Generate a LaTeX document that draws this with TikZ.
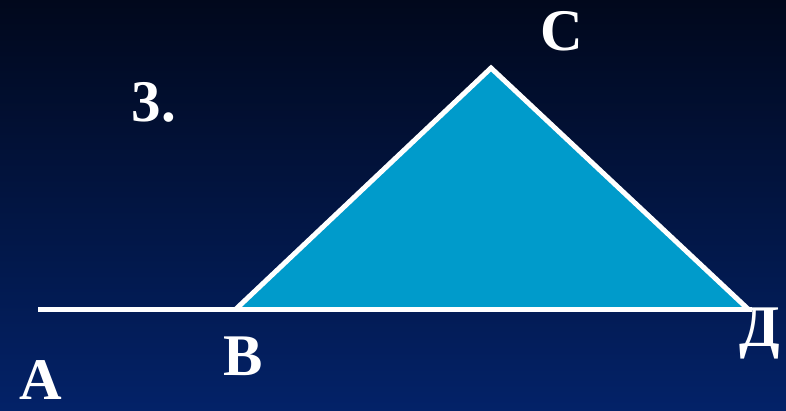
\documentclass[tikz,border=0pt]{standalone}
\usepackage{fontspec}
\setmainfont{Liberation Serif}
\definecolor{bgtop}{RGB}{1,8,28}
\definecolor{bgbot}{RGB}{3,34,104}
\definecolor{trifill}{RGB}{0,155,203}
\tikzset{
  lbl/.style={text=white,font=\fontsize{59}{62}\selectfont\bfseries,inner sep=0pt,anchor=base},
  wline/.style={draw=white,line width=5pt,line join=miter}
}
\begin{document}
\begin{tikzpicture}[x=1pt,y=-1pt]
\shade[top color=bgtop,bottom color=bgbot] (0,0) rectangle (786,410);
\useasboundingbox (0,0) rectangle (786,410);
\coordinate (L) at (38,309);
\coordinate (R) at (752,309);
\coordinate (B) at (236,309);
\coordinate (C) at (491,68);
\coordinate (D) at (748,309);
\fill[trifill] (B) -- (C) -- (D) -- cycle;
\draw[wline] (B) -- (C) -- (D);
\draw[wline] (L) -- (R);
\node[lbl] (n3) at (154,121) {3.};
\node[lbl] (nC) at (562,50) {C};
\node[lbl] (nA) at (41,399) {A};
\node[lbl] (nB) at (243,375) {B};
\node[lbl] (nD) at (760,346) {Д};
\end{tikzpicture}
\end{document}
